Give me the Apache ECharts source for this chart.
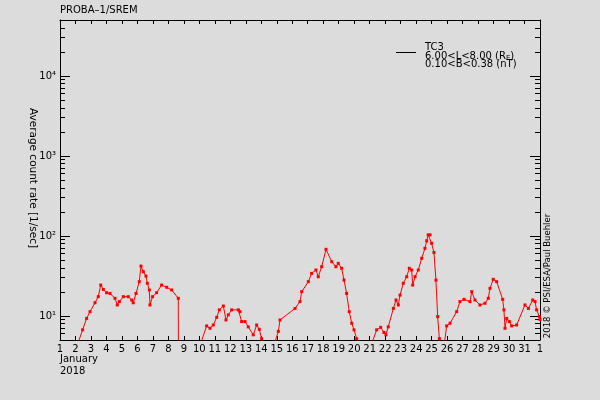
<!DOCTYPE html>
<html><head><meta charset="utf-8">
<script src="https://cdn.jsdelivr.net/npm/echarts@6/dist/echarts.min.js"></script>
<style>html,body{margin:0;padding:0;background:#dcdcdc}#c{width:600px;height:400px}</style>
</head><body><div id="c"></div>
<script>
// Day of January 2018 (fractional), 32 = 1 February
const days = [
 2.2,2.46,2.72,2.94,3.26,3.47,3.63,3.80,4.01,4.23,4.55,4.70,4.83,5.09,5.41,5.63,5.73,5.91,6.12,6.23,6.38,6.55,6.64,6.77,6.81,6.98,7.24,7.56,7.89,8.21,8.64,8.65,
 9.5,
 10.1,10.47,10.69,10.90,11.12,11.29,11.55,11.72,11.87,12.09,12.52,12.63,12.73,12.95,13.16,13.48,13.70,13.87,14.02,14.1,
 14.5,
 14.85,15.10,15.21,16.18,16.50,16.61,17.04,17.25,17.53,17.68,17.90,18.18,18.55,18.82,18.97,19.19,19.34,19.51,19.68,19.84,19.99,20.16,20.25,
 20.7,
 21.15,21.45,21.71,21.92,22.05,22.20,22.53,22.70,22.85,22.96,23.17,23.39,23.56,23.71,23.78,23.93,24.14,24.36,24.57,24.68,24.78,24.90,25.00,25.15,25.28,25.39,25.50,25.55,
 25.7,
 25.83,25.97,26.19,26.62,26.83,27.09,27.48,27.59,27.80,28.12,28.45,28.66,28.77,28.98,29.20,29.59,29.67,29.74,29.85,30.02,30.17,30.49,31.03,31.25,31.53,31.68,31.78,31.96,32.0
];
// Average count rate [1/sec], null = data gap
const rates = [
 4.8,6.7,9.3,11.3,14.6,17.4,24.3,21.4,19.5,19.1,16.6,13.7,15.1,17.4,17.4,15.8,14.6,19.1,26.8,42,35.7,31.5,25.6,21.1,13.7,17.4,19.5,24.3,22.8,21.1,16.6,1,
 null,
 4.6,7.5,7.0,7.7,9.6,11.9,13.3,8.9,10.3,11.9,11.9,11.3,8.5,8.5,7.3,5.8,7.7,6.8,5.2,4.5,
 null,
 4.5,6.4,8.9,12.4,15.1,20.1,26.8,34,37.5,30.9,41.2,68,47.6,41.2,45.4,39.4,28.1,19.1,11.3,8.1,6.7,5.2,4.5,
 null,
 4.6,6.7,7.2,6.2,5.8,7.3,12.4,15.8,13.7,18.2,25.6,30.9,39.4,37.5,24.3,30.9,37.5,52.5,70,87,103,103,81,62,28,9.8,5.2,4.5,
 null,
 4.6,7.5,8.1,11.3,15.1,16.1,15.1,20.1,15.8,13.7,14.4,16.6,22.1,28.7,26.8,16.1,11.9,7.0,9.3,8.5,7.5,7.7,13.7,12.4,15.8,15.1,11.9,9.8,9.0
];
const majorTicks = [10,100,1000,10000];
const minorTicks = [6,7,8,9,20,30,40,50,60,70,80,90,200,300,400,500,600,700,800,900,2000,3000,4000,5000,6000,7000,8000,9000,20000,30000,40000];
const supers = {1:'\u00b9',2:'\u00b2',3:'\u00b3',4:'\u2074'};

const chart = echarts.init(document.getElementById('c'), null, {renderer:'canvas'});
const F = 'DejaVu Sans';
const base = {type:'log', logBase:10, min:5, max:50000, splitLine:{show:false}};
function yax(pos, ticks, len, showLine, showLabel){
  return Object.assign({}, base, {
    position: pos,
    axisLine:{show:showLine, lineStyle:{color:'#000', width:1}},
    axisTick:{show:true, inside:true, length:len, customValues:ticks, lineStyle:{color:'#000'}},
    axisLabel:{show:showLabel, customValues: showLabel?majorTicks:undefined, fontFamily:F, fontSize:10, color:'#000', margin:4,
      formatter: v => '10' + (supers[Math.round(Math.log10(v))]||'')},
    minorTick:{show:false}
  });
}
const yAxes = [
  yax('left', majorTicks, 10, true, true),
  yax('left', minorTicks, 5, false, false),
  yax('right', majorTicks, 10, true, false),
  yax('right', minorTicks, 5, false, false)
];
const data = days.map((d,i) => [d, rates[i]===null ? '-' : rates[i]]);

chart.setOption({
  backgroundColor:'#dcdcdc',
  animation:false,
  grid:{left:60, right:60, top:20, bottom:60, containLabel:false},
  xAxis:[
    {type:'value', min:1, max:32, interval:1, position:'bottom', splitLine:{show:false},
     axisLine:{lineStyle:{color:'#000'}}, axisTick:{inside:true, length:4, lineStyle:{color:'#000'}},
     axisLabel:{fontFamily:F, fontSize:10, color:'#000', margin:4, showMinLabel:true, showMaxLabel:true,
       formatter: v => v===32 ? '1' : String(v)}},
    {type:'value', min:1, max:32, interval:1, position:'top', splitLine:{show:false},
     axisLine:{lineStyle:{color:'#000'}}, axisTick:{inside:true, length:4, lineStyle:{color:'#000'}},
     axisLabel:{show:false}}
  ],
  yAxis: yAxes,
  series:[{
    type:'line', xAxisIndex:0, yAxisIndex:0, data:data, connectNulls:false, clip:true,
    lineStyle:{color:'#ff0000', width:1}, itemStyle:{color:'#ff0000'},
    symbol:'rect', symbolSize:3, showSymbol:true
  }],
  graphic:[
    {type:'text', left:60, top:5, style:{text:'PROBA\u20131/SREM', font:'10px "DejaVu Sans"', fill:'#000'}},
    {type:'text', left:60, top:354, style:{text:'January', font:'10px "DejaVu Sans"', fill:'#000'}},
    {type:'text', left:60, top:366, style:{text:'2018', font:'10px "DejaVu Sans"', fill:'#000'}},
    {type:'line', shape:{x1:396, y1:52.5, x2:416, y2:52.5}, style:{stroke:'#000', lineWidth:1}},
    {type:'text', left:425, top:42, style:{text:'TC3', font:'10px "DejaVu Sans"', fill:'#000'}},
    {type:'text', left:425, top:51, style:{text:'6.00<L<8.00 (R{s|E})', font:'10px "DejaVu Sans"', fill:'#000',
      rich:{s:{fontSize:7, fontFamily:F, padding:[4,0,0,0]}}}},
    {type:'text', left:425, top:59, style:{text:'0.10<B<0.38 (nT)', font:'10px "DejaVu Sans"', fill:'#000'}},
    {type:'text', x:33, y:178, rotation:-Math.PI/2, style:{text:'Average count rate [1/sec]', font:'10.5px "DejaVu Sans"', fill:'#000', align:'center', verticalAlign:'middle'}},
    {type:'text', x:547.5, y:276, rotation:Math.PI/2, style:{text:'2018 \u00a9 PSI/ESA/Paul Buehler', font:'8.5px "DejaVu Sans"', fill:'#000', align:'center', verticalAlign:'middle'}}
  ]
});
</script></body></html>
